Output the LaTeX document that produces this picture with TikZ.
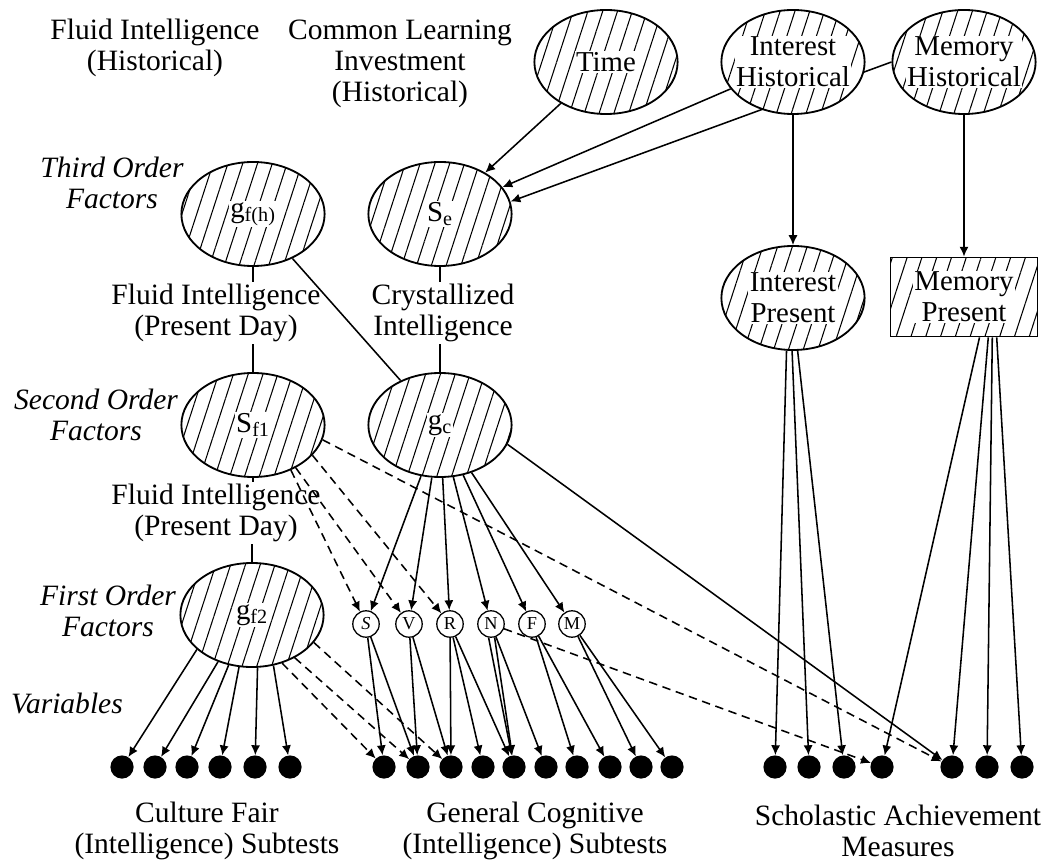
\documentclass[tikz,border=0pt]{standalone}
\usepackage{fontspec}
\setmainfont{Liberation Serif}
\usetikzlibrary{shapes.geometric,arrows.meta,patterns.meta}
\pgfdeclarelayer{bg}
\pgfsetlayers{bg,main}
\tikzset{
  hatch/.style={preaction={fill=white},pattern={Lines[angle=72,distance=10pt,line width=.75pt]}},
  factor/.style={ellipse,draw,line width=1.3pt,hatch,minimum width=3.58cm,minimum height=2.6cm,inner sep=0pt},
  factorbox/.style={rectangle,draw,line width=1.1pt,hatch,minimum width=3.68cm,minimum height=1.98cm,inner sep=0pt},
  ftext/.style={fill=white,inner sep=1pt,align=center,font=\fontsize{20.5}{22}\selectfont},
  txt/.style={align=center,inner sep=1.5pt,font=\fontsize{21}{22}\selectfont},
  orderlab/.style={txt,font=\fontsize{21}{22}\selectfont\itshape},
  prim/.style={circle,draw,line width=.9pt,fill=white,minimum size=.66cm,inner sep=0pt,font=\fontsize{13}{13}\selectfont},
  manifest/.style={circle,fill=black,minimum size=.58cm,inner sep=0pt},
  link/.style={line width=1.1pt},
  arr/.style={link,-{Latex[length=7pt,width=6.5pt]}},
  darr/.style={arr,dash pattern=on 6pt off 4pt},
}
\begin{document}
\begin{tikzpicture}[x=0.025cm,y=-0.025cm]
\useasboundingbox (0,0) rectangle (1058,865);
% historical
\node[txt] (fih) at (155,48) {Fluid Intelligence\\(Historical)};
\node[txt] (cli) at (400,64) {Common Learning\\Investment\\(Historical)};
\node[factor,label={[ftext]center:Time}] (time) at (606,62) {};
\node[factor,label={[ftext]center:{Interest\\Historical}}] (ih) at (793,62) {};
\node[factor,label={[ftext]center:{Memory\\Historical}}] (mh) at (964,62) {};
% third order
\node[orderlab] (l3) at (112,183) {Third Order\\Factors};
\node[factor,label={[ftext]center:g\textsubscript{f(h)}}] (gfh) at (253,214) {};
\node[factor,label={[ftext]center:S\textsubscript{e}}] (se) at (440,214) {};
\node[factor,label={[ftext]center:{Interest\\Present}}] (ip) at (793,298) {};
\node[factorbox,label={[ftext]center:{Memory\\Present}}] (mp) at (964,297) {};
\node[txt] (fip1) at (216,313) {Fluid Intelligence\\(Present Day)};
\node[txt] (ci) at (443,313) {Crystallized\\Intelligence};
% second order
\node[orderlab] (l2) at (96,415) {Second Order\\Factors};
\node[factor,label={[ftext]center:S\textsubscript{f1}}] (sf1) at (253,425) {};
\node[factor,label={[ftext]center:g\textsubscript{c}}] (gc) at (440,425) {};
\node[txt] (fip2) at (216,513) {Fluid Intelligence\\(Present Day)};
% first order
\node[orderlab] (l1) at (108,611) {First Order\\Factors};
\node[factor,label={[ftext]center:g\textsubscript{f2}}] (gf2) at (252,615) {};
\foreach \n/\t/\x in {S/\textit{S}/366,V/V/409,R/R/450,N/N/491,F/F/532,M/M/572}
  \node[prim] (p\n) at (\x,624) {\t};
% variables
\node[orderlab] (lv) at (67,703) {Variables};
\foreach \x [count=\i] in {122,155,187,220,255,290}
  \node[manifest] (cf\i) at (\x,767) {};
\foreach \x [count=\i] in {384,418,451,483,514,546,577,610,641,672}
  \node[manifest] (cg\i) at (\x,767) {};
\foreach \x [count=\i] in {775,809,844,882,952,987,1022}
  \node[manifest] (sa\i) at (\x,767) {};
\node[txt] (cft) at (207,831) {Culture Fair\\(Intelligence) Subtests};
\node[txt] (cgt) at (535,831) {General Cognitive\\(Intelligence) Subtests};
\node[txt] (sam) at (898,831) {Scholastic Achievement\\Measures};

\begin{pgfonlayer}{bg}
\draw[arr] (time) -- (se);
\draw[arr] (ih) -- (se);
\draw[arr] (mh.west) -- (se.10);
\draw[arr] (ih) -- (ip);
\draw[arr] (mh) -- (mp);
\draw[link] (gfh.south) -- (gfh.south |- fip1.north);
\draw[link] (fip1.south -| sf1.north) -- (sf1.north);
\draw[link] (se.south) -- (se.south |- ci.north);
\draw[link] (ci.south -| gc.north) -- (gc.north);
\draw[link] (sf1.south) -- (sf1.south |- fip2.north);
\draw[link] (fip2.south -| gf2.north) -- (gf2.north);
\draw[link] (gfh) -- (gc);
\foreach \a/\t in {-50/pS,-45/pV,-27/pR}
  \draw[darr] (sf1.\a) -- (\t);
\draw[darr] (sf1.-12) -- (sa5);
\foreach \t in {pS,pV,pR,pN,pF,pM}
  \draw[arr] (gc) -- (\t);
\draw[arr] (gc.-16) -- (sa5);
\foreach \a/\t in {-148/cf1,-126/cf2,-115/cf3,-104/cf4,-84/cf5,-67/cf6}
  \draw[arr] (gf2.\a) -- (\t);
\foreach \a/\t in {-58/cg1,-45/cg2,-24/cg3}
  \draw[darr] (gf2.\a) -- (\t);
\foreach \s/\t in {pS/cg1,pS/cg2,pV/cg2,pV/cg3,pR/cg3,pR/cg4,pR/cg5,pN/cg6,pF/cg7,pF/cg8,pM/cg9,pM/cg10}
  \draw[arr] (\s) -- (\t);
\draw[arr] (pN.-100) -- (cg5);
\draw[arr] (pN.-75) -- (cg5);
\draw[darr] (pN) -- (sa4);
\foreach \a/\t in {-97/sa1,-91/sa2,-85/sa3}
  \draw[arr] (ip.\a) -- (\t);
\foreach \a/\t in {-69/sa4,-59/sa5,-55/sa6,-51/sa7}
  \draw[arr] (mp.\a) -- (\t);
\end{pgfonlayer}
\end{tikzpicture}
\end{document}
